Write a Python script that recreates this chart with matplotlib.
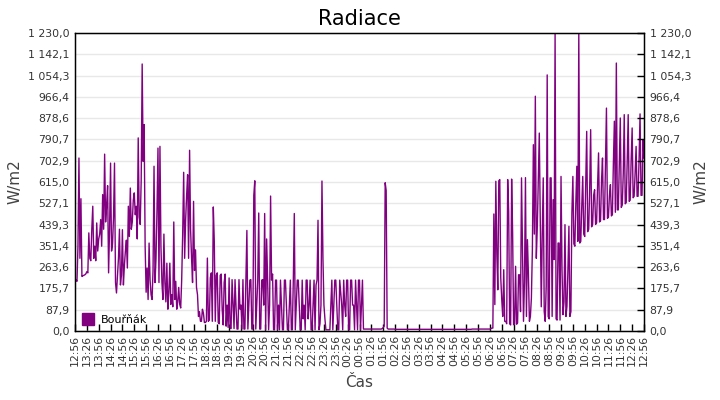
import numpy as np
import matplotlib
matplotlib.use('Agg')
import matplotlib.pyplot as plt
from matplotlib.lines import Line2D

# radiation samples every 2.5 minutes, starting 12:56 (one row = 30 min)
step_min = 2.5
start_label = '12:56'
series_name = 'Bouřňák'
radiation = [
    # 12:56 - 16:56
    212, 210, 205, 350, 714, 300, 546, 225, 228, 230, 232, 236,
    245, 240, 405, 300, 290, 420, 515, 300, 350, 290, 446, 330,
    380, 400, 460, 350, 563, 420, 730, 450, 520, 600, 240, 420,
    693, 330, 360, 470, 693, 200, 157, 230, 300, 420, 190, 230,
    418, 190, 270, 330, 375, 260, 515, 390, 590, 420, 450, 540,
    570, 480, 515, 380, 797, 470, 440, 620, 1102, 700, 852, 350,
    160, 260, 130, 363, 210, 150, 130, 250, 680, 200, 300, 500,
    755, 200, 762, 350, 200, 130, 400, 200, 120, 280, 90, 160,
    # 16:56 - 20:56
    280, 110, 150, 100, 450, 130, 205, 90, 120, 180, 110, 95,
    212, 400, 655, 300, 460, 560, 645, 300, 746, 420, 300, 200,
    535, 250, 335, 180, 150, 60, 80, 40, 40, 90, 74, 35,
    35, 40, 301, 40, 45, 220, 240, 40, 512, 370, 40, 230,
    240, 35, 30, 230, 235, 90, 25, 200, 235, 20, 107, 15,
    219, 12, 10, 212, 107, 10, 212, 100, 8, 8, 212, 90,
    107, 8, 212, 8, 8, 210, 415, 8, 107, 210, 212, 8,
    8, 560, 620, 8, 107, 210, 487, 8, 8, 210, 212, 107,
    # 20:56 - 00:56
    485, 5, 380, 210, 5, 107, 557, 210, 235, 5, 5, 210,
    210, 5, 107, 5, 210, 107, 5, 5, 210, 210, 110, 5,
    5, 107, 210, 5, 5, 210, 485, 5, 107, 210, 210, 107,
    5, 5, 210, 50, 107, 5, 210, 210, 50, 107, 210, 5,
    5, 107, 210, 5, 190, 210, 457, 5, 30, 107, 619, 300,
    107, 50, 5, 5, 5, 5, 5, 107, 210, 5, 107, 210,
    210, 107, 5, 5, 210, 160, 107, 5, 210, 107, 60, 210,
    210, 5, 5, 210, 210, 107, 107, 5, 210, 107, 5, 210,
    # 00:56 - 04:56
    210, 5, 107, 210, 8, 8, 8, 8, 8, 8, 8, 8,
    8, 8, 8, 8, 8, 8, 8, 8, 8, 8, 8, 10,
    14, 20, 612, 580, 12, 8, 8, 8, 8, 8, 8, 8,
    7, 7, 7, 7, 7, 7, 7, 7, 7, 7, 7, 7,
    7, 7, 7, 7, 7, 7, 7, 7, 7, 7, 7, 7,
    7, 7, 7, 7, 7, 7, 7, 7, 7, 7, 7, 7,
    7, 7, 7, 7, 7, 7, 7, 7, 7, 7, 7, 7,
    7, 7, 7, 7, 7, 7, 7, 7, 7, 7, 7, 7,
    # 04:56 - 08:56
    7, 7, 7, 7, 7, 7, 7, 7, 7, 7, 7, 7,
    7, 7, 7, 7, 7, 7, 8, 8, 8, 8, 8, 8,
    8, 8, 8, 8, 8, 8, 8, 8, 8, 8, 8, 8,
    8, 10, 12, 12, 483, 109, 618, 320, 170, 620, 625, 219,
    130, 60, 253, 40, 40, 30, 625, 494, 30, 25, 627, 405,
    26, 28, 267, 28, 33, 232, 232, 80, 632, 329, 40, 200,
    633, 60, 377, 232, 40, 60, 136, 336, 769, 400, 969, 300,
    432, 632, 817, 453, 100, 400, 632, 80, 40, 184, 1057, 60,
    # 08:56 - 12:56
    50, 632, 632, 60, 542, 295, 1230, 50, 45, 363, 363, 45,
    638, 253, 67, 120, 439, 60, 102, 253, 432, 60, 80, 487,
    638, 360, 350, 528, 680, 370, 1230, 363, 370, 515, 638, 400,
    390, 600, 824, 410, 420, 583, 831, 430, 440, 560, 583, 440,
    446, 600, 735, 450, 455, 620, 714, 460, 460, 693, 920, 465,
    470, 560, 604, 475, 480, 693, 866, 490, 1106, 500, 500, 700,
    879, 510, 520, 650, 893, 525, 530, 700, 893, 535, 540, 707,
    838, 550, 556, 650, 762, 556, 556, 707, 896, 560, 560, 790,
    714,
]
y_max = 1230.0


def fmt_cz(v):
    s = f'{v:,.1f}'
    return s.replace(',', ' ').replace('.', ',')


def main():
    minutes = np.arange(len(radiation)) * step_min
    total = minutes[-1]

    h0, m0 = map(int, start_label.split(':'))
    tick_pos = np.arange(0, total + 1, 30)
    tick_labels = []
    for t in tick_pos:
        mm = (h0 * 60 + m0 + int(t)) % (24 * 60)
        tick_labels.append(f'{mm // 60:02d}:{mm % 60:02d}')

    y_ticks = np.linspace(0, y_max, 15)
    y_labels = [fmt_cz(v) for v in y_ticks]

    fig = plt.figure(figsize=(7.2, 4.0), dpi=100)
    ax = fig.add_axes([75 / 720, 69 / 400, 569 / 720, 298 / 400])
    ax.plot(minutes, radiation, color='#800080', lw=1.0)

    ax.set_xlim(0, total)
    ax.set_ylim(0, y_max)
    ax.set_yticks(y_ticks)
    ax.set_yticklabels(y_labels, fontsize=7.8, color='#333333')
    ax.set_xticks(tick_pos)
    ax.set_xticklabels(tick_labels, rotation=90, fontsize=7.8,
                       color='#333333')
    ax.tick_params(axis='x', direction='in', length=5, width=1, pad=3)
    ax.tick_params(axis='y', length=0, pad=4)
    ax.grid(axis='y', color='#e8e8e8', lw=1)
    ax.set_axisbelow(True)
    for sp in ax.spines.values():
        sp.set_linewidth(1.0)

    ax.set_ylabel('W/m2', fontsize=11, color='#444444', labelpad=4)
    ax.set_xlabel('Čas', fontsize=11, color='#444444', labelpad=6)
    ax.set_title('Radiace', fontsize=15, pad=6)

    ax2 = ax.twinx()
    ax2.set_ylim(0, y_max)
    ax2.set_yticks(y_ticks)
    ax2.set_yticklabels(y_labels, fontsize=7.8, color='#333333')
    ax2.tick_params(axis='y', direction='in', length=5, width=1, pad=4)
    ax2.set_ylabel('W/m2', fontsize=11, color='#444444', labelpad=2)

    handle = Line2D([], [], ls='none', marker='s', markersize=8,
                    color='#800080')
    ax.legend([handle], [series_name], loc='lower left', frameon=False,
              fontsize=8, handletextpad=0.6, borderaxespad=0.15,
              handlelength=1.2, bbox_to_anchor=(0.0, 0.0))

    fig.savefig('out.png', dpi=100)


if __name__ == '__main__':
    main()
